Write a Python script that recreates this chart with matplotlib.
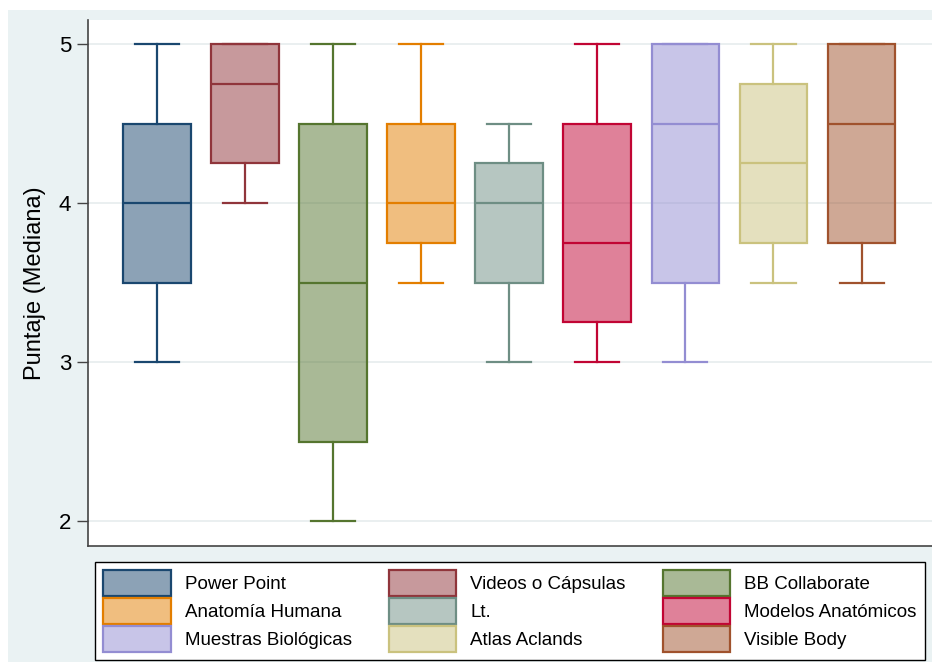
import matplotlib.pyplot as plt
from matplotlib.patches import Patch, Rectangle

plt.rcParams['font.family'] = ['Liberation Sans', 'DejaVu Sans']

# box plot summaries
groups = ['Power Point', 'Videos o Cápsulas', 'BB Collaborate', 'Anatomía Humana', 'Lt.',
          'Modelos Anatómicos', 'Muestras Biológicas', 'Atlas Aclands', 'Visible Body']
whislo = [3, 4, 2, 3.5, 3, 3, 3, 3.5, 3.5]
q1 = [3.5, 4.25, 2.5, 3.75, 3.5, 3.25, 3.5, 3.75, 3.75]
med = [4, 4.75, 3.5, 4, 4, 3.75, 4.5, 4.25, 4.5]
q3 = [4.5, 5, 4.5, 4.5, 4.25, 4.5, 5, 4.75, 5]
whishi = [5, 5, 5, 5, 4.5, 5, 5, 5, 5]

edge_colors = ['#1a476f', '#90353b', '#55752f', '#e37e00', '#6e8e84',
               '#c10534', '#938dd2', '#cac27e', '#a0522d']

fig = plt.figure(figsize=(9.32, 6.62), dpi=100, facecolor='white')
fig.patches.append(Rectangle((8 / 932, 0), 1, (662 - 10) / 662, transform=fig.transFigure,
                             facecolor='#eaf2f3', edgecolor='none', zorder=-10))

ax = fig.add_axes([88 / 932, 116 / 662, (932 - 88) / 932, (642 - 116) / 662])
ax.set_facecolor('white')

for i in range(len(groups)):
    stats = [dict(whislo=whislo[i], q1=q1[i], med=med[i], q3=q3[i], whishi=whishi[i], fliers=[])]
    c = edge_colors[i]
    ax.bxp(stats, positions=[i], widths=0.77, patch_artist=True, showfliers=False,
           boxprops=dict(facecolor=c + '80', edgecolor=c, linewidth=1.6),
           medianprops=dict(color=c, linewidth=1.6),
           whiskerprops=dict(color=c, linewidth=1.6),
           capprops=dict(color=c, linewidth=1.6),
           capwidths=0.5, manage_ticks=False, zorder=3)

ax.set_xlim(-0.784, 8.8)
ax.set_ylim(1.843, 5.151)
ax.set_yticks([2, 3, 4, 5])
ax.set_xticks([])
ax.grid(axis='y', color='#e6ecee', linewidth=1.2, zorder=0)
ax.set_axisbelow(True)
ax.tick_params(axis='y', length=8, width=1, color='#444444', labelsize=16, pad=4)
for s in ['top', 'right']:
    ax.spines[s].set_visible(False)
for s in ['left', 'bottom']:
    ax.spines[s].set_color('#444444')
    ax.spines[s].set_linewidth(1.2)
ax.set_ylabel('Puntaje (Mediana)', fontsize=17, labelpad=9)

handles = [Patch(facecolor=c + '80', edgecolor=c, linewidth=1.6) for c in edge_colors]
# matplotlib fills legend columns first, so reorder to read row by row
order = [0, 3, 6, 1, 4, 7, 2, 5, 8]
leg = fig.legend([handles[k] for k in order], [groups[k] for k in order], ncol=3,
                 bbox_to_anchor=(95 / 932, 2 / 662, 830 / 932, 98 / 662), loc='center',
                 mode='expand', borderaxespad=0, fontsize=13.5, frameon=True, fancybox=False,
                 edgecolor='black', framealpha=1, handlelength=3.6, handleheight=1.75,
                 labelspacing=0.1, handletextpad=0.75, borderpad=0.45)
leg.get_frame().set_linewidth(1.0)

fig.savefig('out.png', dpi=100)
